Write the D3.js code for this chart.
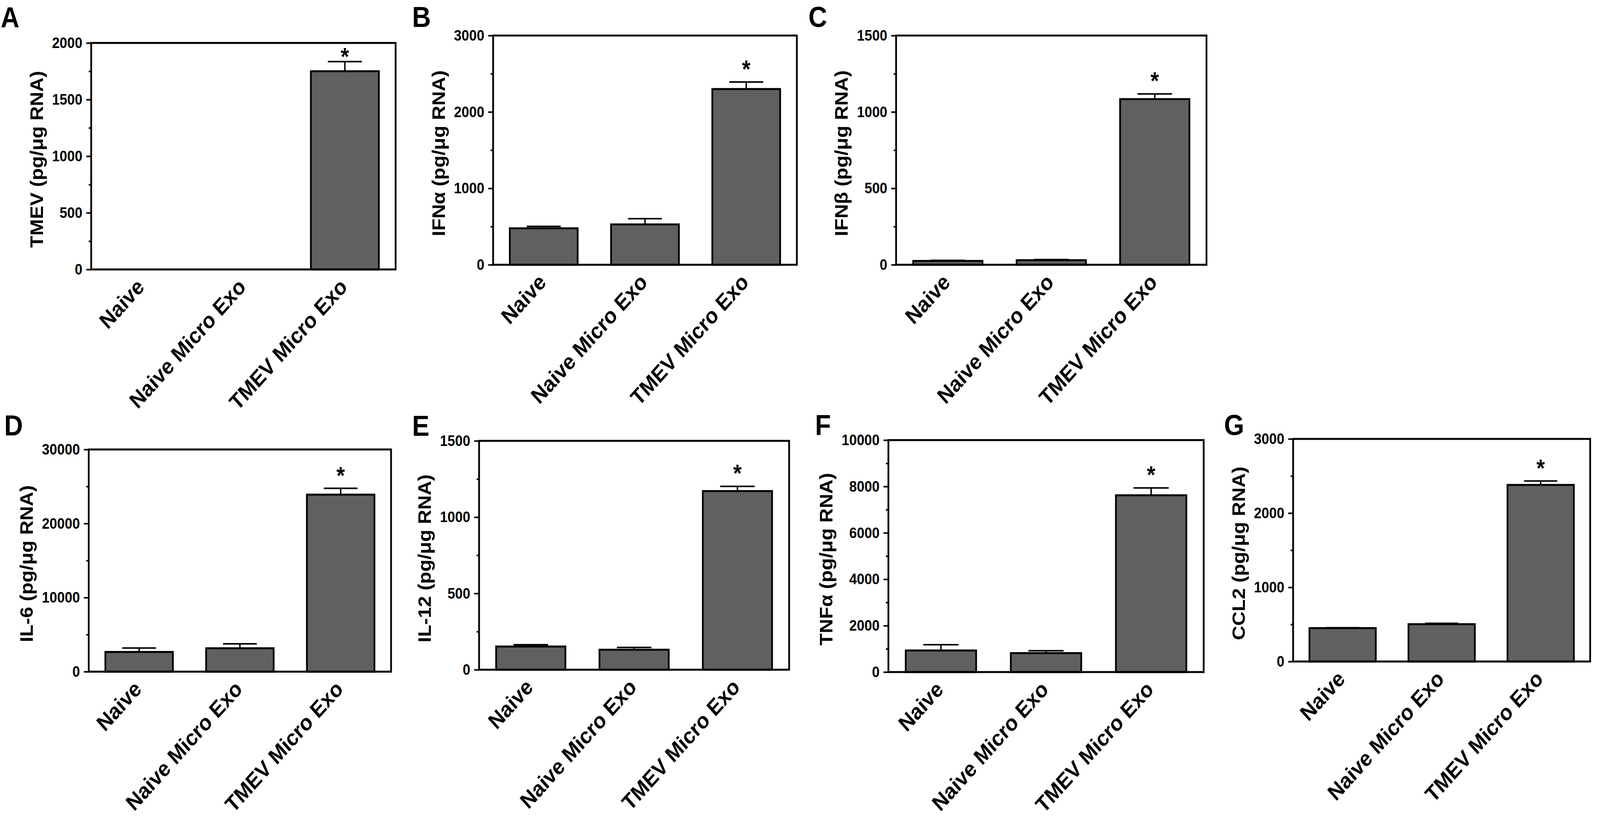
<!DOCTYPE html>
<html>
<head>
<meta charset="utf-8">
<script src="https://cdn.jsdelivr.net/npm/d3@7"></script>
<style>
  html, body { margin: 0; padding: 0; background: #fff; overflow: hidden; }
  #figure { display: block; width: 100vw; height: 100vh; }
  svg text { font-family: "Liberation Sans", Arial, sans-serif; font-weight: bold; fill: #000; }
</style>
</head>
<body>
<svg id="figure"></svg>
<script>
const groups = ["Naive", "Naive Micro Exo", "TMEV Micro Exo"];
const starred = [false, false, true];

const tmevMean = [0, 0, 1750];
const tmevSem = [0, 0, 85];
const tmevTicks = [0, 500, 1000, 1500, 2000];

const ifnaMean = [477, 528, 2300];
const ifnaSem = [25, 75, 92];
const ifnaTicks = [0, 1000, 2000, 3000];

const ifnbMean = [25, 30, 1084];
const ifnbSem = [4, 4, 34];
const ifnbTicks = [0, 500, 1000, 1500];

const il6Mean = [2660, 3160, 23900];
const il6Sem = [530, 600, 850];
const il6Ticks = [0, 10000, 20000, 30000];

const il12Mean = [152, 131, 1171];
const il12Sem = [12, 15, 31];
const il12Ticks = [0, 500, 1000, 1500];

const tnfMean = [930, 816, 7620];
const tnfSem = [250, 100, 318];
const tnfTicks = [0, 2000, 4000, 6000, 8000, 10000];

const ccl2Mean = [450, 503, 2380];
const ccl2Sem = [5, 12, 53];
const ccl2Ticks = [0, 1000, 2000, 3000];

const yTitles = ["TMEV (pg/μg RNA)", "IFNα (pg/μg RNA)", "IFNβ (pg/μg RNA)",
                 "IL-6 (pg/μg RNA)", "IL-12 (pg/μg RNA)", "TNFα (pg/μg RNA)", "CCL2 (pg/μg RNA)"];

// panel boxes in reference pixels (layout only)
const layout = [
  {letter: "A", lx: 2,    ly: 70,   left: 260,  right: 1128, top: 110,  bottom: 690},
  {letter: "B", lx: 1175, ly: 69,   left: 1406, right: 2272, top: 91,   bottom: 678},
  {letter: "C", lx: 2305, ly: 69,   left: 2555, right: 3440, top: 91,   bottom: 678},
  {letter: "D", lx: 12,   ly: 1115, left: 253,  right: 1115, top: 1151, bottom: 1720},
  {letter: "E", lx: 1175, ly: 1116, left: 1366, right: 2250, top: 1129, bottom: 1715},
  {letter: "F", lx: 2324, ly: 1114, left: 2533, right: 3432, top: 1127, bottom: 1721},
  {letter: "G", lx: 3490, ly: 1114, left: 3687, right: 4534, top: 1124, bottom: 1694}
];

const means = [tmevMean, ifnaMean, ifnbMean, il6Mean, il12Mean, tnfMean, ccl2Mean];
const sems = [tmevSem, ifnaSem, ifnbSem, il6Sem, il12Sem, tnfSem, ccl2Sem];
const ticks = [tmevTicks, ifnaTicks, ifnbTicks, il6Ticks, il12Ticks, tnfTicks, ccl2Ticks];

// the window may be narrower than the figure, so stretch the figure over it
const svg = d3.select("#figure")
  .attr("viewBox", "0 0 4562 2105")
  .attr("preserveAspectRatio", "none");

layout.forEach((p, i) => {
  const tickVals = ticks[i];
  const minorVals = tickVals.slice(1).map((t, k) => (t + tickVals[k]) / 2);
  const rows = groups.map((g, k) => ({group: g, mean: means[i][k], sem: sems[i][k], star: starred[k]}));

  const x = d3.scaleBand()
    .domain(groups)
    .range([p.left, p.right])
    .paddingInner(0.33)
    .paddingOuter(0.165);

  const y = d3.scaleLinear()
    .domain([0, d3.max(tickVals)])
    .range([p.bottom, p.top]);

  const g = svg.append("g").attr("class", "panel");

  // panel letter
  g.append("text")
    .attr("x", p.lx)
    .attr("y", p.ly)
    .attr("font-size", 74)
    .text(p.letter);

  // bars
  g.selectAll(".bar")
    .data(rows)
    .enter()
    .append("rect")
    .attr("class", "bar")
    .attr("x", d => x(d.group))
    .attr("y", d => y(d.mean))
    .attr("width", x.bandwidth())
    .attr("height", d => y(0) - y(d.mean))
    .attr("fill", "#606060")
    .attr("stroke", "#000")
    .attr("stroke-width", d => d.mean > 0 ? 5 : 0);

  // error bars (upper half)
  const cap = x.bandwidth() * 0.25;
  const err = g.selectAll(".err")
    .data(rows.filter(d => d.mean > 0))
    .enter()
    .append("g")
    .attr("class", "err")
    .attr("stroke", "#000")
    .attr("stroke-width", 4);

  err.append("line")
    .attr("x1", d => x(d.group) + x.bandwidth() / 2)
    .attr("x2", d => x(d.group) + x.bandwidth() / 2)
    .attr("y1", d => y(d.mean))
    .attr("y2", d => y(d.mean + d.sem));

  err.append("line")
    .attr("x1", d => x(d.group) + x.bandwidth() / 2 - cap)
    .attr("x2", d => x(d.group) + x.bandwidth() / 2 + cap)
    .attr("y1", d => y(d.mean + d.sem))
    .attr("y2", d => y(d.mean + d.sem));

  // significance asterisk
  g.selectAll(".star")
    .data(rows.filter(d => d.star))
    .enter()
    .append("text")
    .attr("class", "star")
    .attr("x", d => x(d.group) + x.bandwidth() / 2)
    .attr("y", d => Math.max(p.top + 22, y(d.mean + d.sem) - 46) + 34)
    .attr("text-anchor", "middle")
    .attr("font-size", 62)
    .text("*");

  // y axis with major and minor ticks
  const yAxis = g.append("g")
    .attr("transform", `translate(${p.left},0)`)
    .call(d3.axisLeft(y).tickValues(tickVals).tickSize(14).tickPadding(11).tickFormat(d3.format("d")));
  yAxis.select(".domain").remove();
  yAxis.selectAll(".tick line").attr("stroke-width", 4);
  yAxis.selectAll(".tick text")
    .attr("font-size", 39)
    .attr("font-family", "Liberation Sans, Arial, sans-serif")
    .attr("font-weight", "bold");

  g.append("g")
    .attr("transform", `translate(${p.left},0)`)
    .call(d3.axisLeft(y).tickValues(minorVals).tickSize(7).tickFormat(""))
    .call(a => a.select(".domain").remove())
    .selectAll(".tick line").attr("stroke-width", 4);

  // frame
  g.append("rect")
    .attr("x", p.left)
    .attr("y", p.top)
    .attr("width", p.right - p.left)
    .attr("height", p.bottom - p.top)
    .attr("fill", "none")
    .attr("stroke", "#000")
    .attr("stroke-width", 5);

  // y title
  const labelW = d3.max(yAxis.selectAll(".tick text").nodes(), n => n.getBBox().width);
  const tx = p.left - 25 - labelW - 44;
  const ty = (p.top + p.bottom) / 2 + 8;
  g.append("text")
    .attr("transform", `translate(${tx},${ty}) rotate(-90)`)
    .attr("text-anchor", "middle")
    .attr("dominant-baseline", "central")
    .attr("font-size", 51)
    .text(yTitles[i]);

  // rotated category labels
  g.selectAll(".xlab")
    .data(groups)
    .enter()
    .append("text")
    .attr("class", "xlab")
    .attr("transform", d => `translate(${x(d) + x.bandwidth() / 2 + 10},${p.bottom + 48}) rotate(-45)`)
    .attr("text-anchor", "end")
    .attr("font-size", 57)
    .text(d => d);
});
</script>
</body>
</html>
